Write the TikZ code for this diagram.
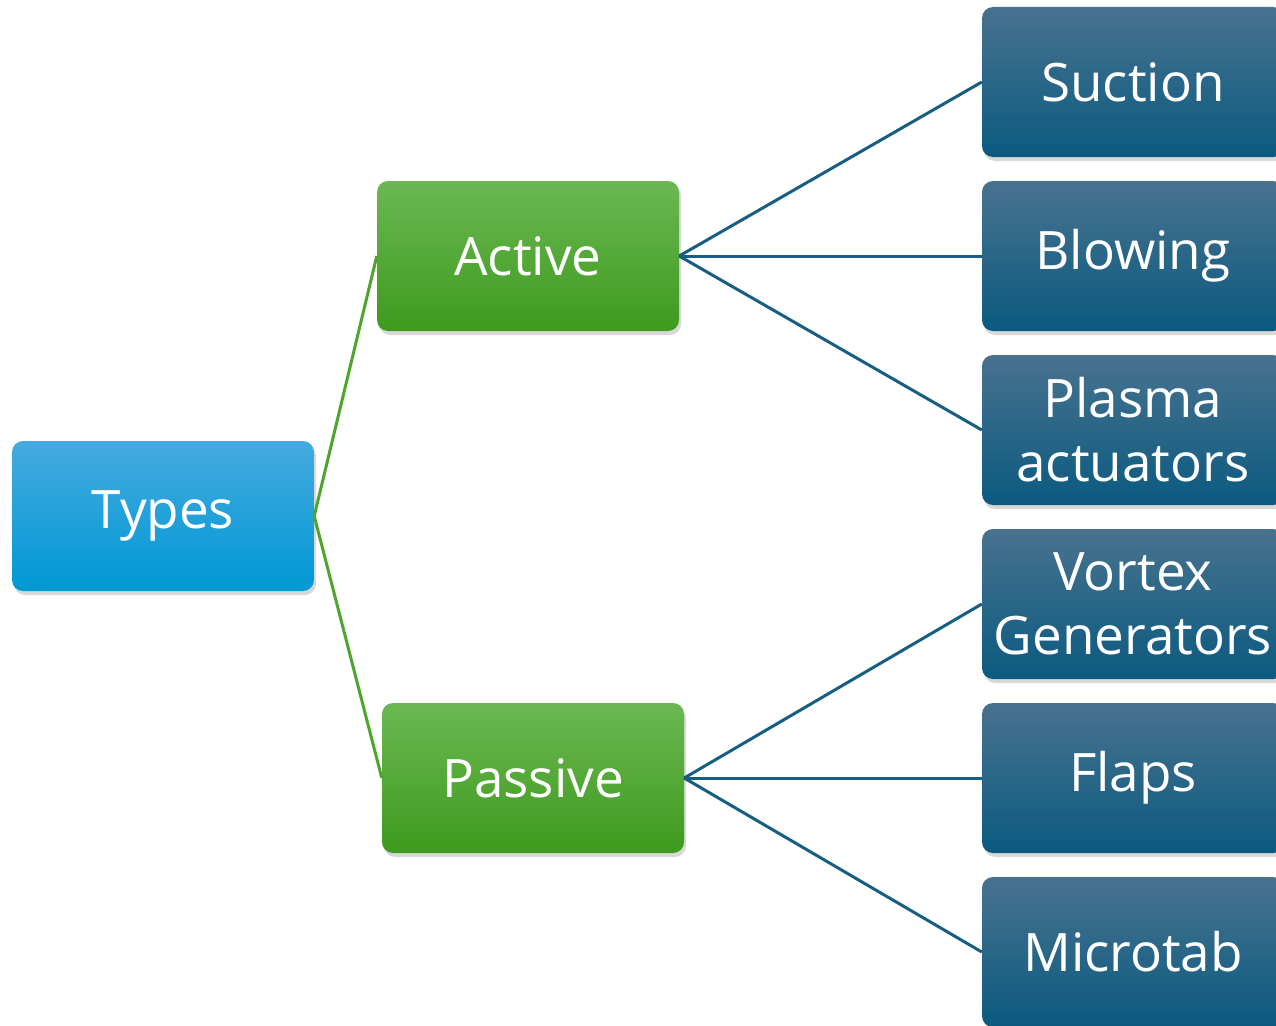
\documentclass[tikz,border=0pt]{standalone}
\usepackage{fontspec}
\setmainfont{Open Sans}
\usetikzlibrary{shadows}
\definecolor{bluetop}{HTML}{45AADF}
\definecolor{bluebot}{HTML}{0098D4}
\definecolor{greentop}{HTML}{6BB852}
\definecolor{greenbot}{HTML}{3E9A1E}
\definecolor{darktop}{HTML}{48728F}
\definecolor{darkbot}{HTML}{0B5A80}
\definecolor{linkblue}{HTML}{175E82}
\definecolor{linkgreen}{HTML}{4DA52B}
\tikzset{
  box/.style={rounded corners=11pt, minimum width=302pt, minimum height=150pt,
    inner sep=0pt, align=center, text=white, font=\fontsize{53}{64}\selectfont,
    drop shadow={opacity=0.3, shadow xshift=2pt, shadow yshift=-4pt}},
  rootbox/.style={box, top color=bluetop, bottom color=bluebot},
  midbox/.style={box, top color=greentop, bottom color=greenbot},
  leafbox/.style={box, top color=darktop, bottom color=darkbot},
  glink/.style={draw=linkgreen, line width=3pt},
  blink/.style={draw=linkblue, line width=3pt},
}
\begin{document}
\begin{tikzpicture}[x=1pt,y=-1pt]
\useasboundingbox (0,0) rectangle (1276,1025);
\clip (0,0) rectangle (1276,1025);
\fill[white] (0,0) rectangle (1276,1025);
\node[rootbox] (types) at (163,516) {Types};
\node[midbox] (active) at (528,256) {Active};
\node[midbox] (passive) at (533,778) {Passive};
\node[leafbox] (suction) at (1133,82) {Suction};
\node[leafbox] (blowing) at (1133,256) {Blowing};
\node[leafbox] (plasma) at (1133,430) {Plasma\\actuators};
\node[leafbox] (vortex) at (1133,604) {Vortex\\Generators};
\node[leafbox] (flaps) at (1133,778) {Flaps};
\node[leafbox] (microtab) at (1133,952) {Microtab};
\draw[glink] (types.east) -- (active.west);
\draw[glink] (types.east) -- (passive.west);
\draw[blink] (active.east) -- (suction.west);
\draw[blink] (active.east) -- (blowing.west);
\draw[blink] (active.east) -- (plasma.west);
\draw[blink] (passive.east) -- (vortex.west);
\draw[blink] (passive.east) -- (flaps.west);
\draw[blink] (passive.east) -- (microtab.west);
\end{tikzpicture}
\end{document}
